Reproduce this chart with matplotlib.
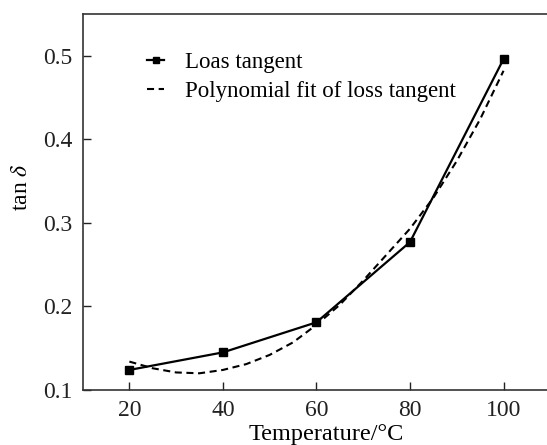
import matplotlib
matplotlib.use("Agg")
import matplotlib.pyplot as plt

plt.rcParams['font.family'] = ['Liberation Serif', 'DejaVu Serif']
plt.rcParams['mathtext.fontset'] = 'stix'

# measured loss tangent
temp = [20, 40, 60, 80, 100]
tan_delta = [0.124, 0.145, 0.181, 0.277, 0.496]

# polynomial fit curve
fit_temp = [20, 25, 30, 35, 40, 45, 50, 55, 60, 65, 70, 75, 80, 85, 90, 95, 100]
fit_vals = [0.134, 0.126, 0.121, 0.120, 0.124, 0.131, 0.142, 0.157, 0.178,
            0.202, 0.231, 0.262, 0.293, 0.330, 0.374, 0.424, 0.482]

x_ticks = [20, 40, 60, 80, 100]
y_ticks = [0.1, 0.2, 0.3, 0.4, 0.5]

fig = plt.figure(figsize=(5.47, 4.45), dpi=100)
ax = fig.add_axes([0.151, 0.1236, 0.855, 0.845])

ax.plot(temp, tan_delta, color='black', lw=1.6, marker='s', markersize=5.5,
        label='Loas tangent')
ax.plot(fit_temp, fit_vals, color='black', lw=1.5, dashes=(3.4, 2.2),
        label='Polynomial fit of loss tangent')

ax.set_xlim(10, 110)
ax.set_ylim(0.1, 0.55)
ax.set_xticks(x_ticks)
ax.set_yticks(y_ticks)
ax.set_yticklabels([f'{v:.1f}' for v in y_ticks])

ax.tick_params(direction='in', length=5.5, width=1, pad=7, labelsize=17,
               colors='#222222')
ax.tick_params(right=False, top=False)
for s in ax.spines.values():
    s.set_linewidth(1.2)
    s.set_color('#333333')

ax.set_xlabel('Temperature/°C', fontsize=17.5)
ax.xaxis.set_label_coords(0.52, -0.09)
ax.set_ylabel(r'tan $\delta$', fontsize=17)
ax.yaxis.set_label_coords(-0.108, 0.54)

ax.legend(loc='upper left', bbox_to_anchor=(0.138, 0.899), frameon=False,
          fontsize=16.5, handlelength=0.75, handletextpad=0.9, labelspacing=0.35,
          borderaxespad=0, borderpad=0, markerscale=0.9)

fig.savefig('out.png', dpi=100)
